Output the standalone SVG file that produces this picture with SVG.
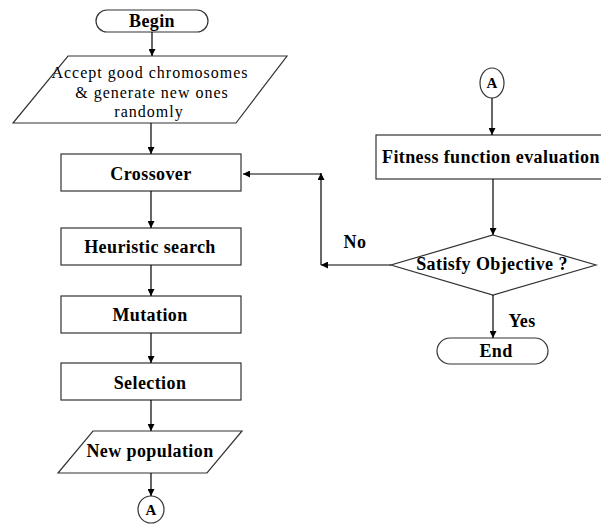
<svg xmlns="http://www.w3.org/2000/svg" width="601" height="525" viewBox="0 0 601 525">
<defs>
<marker id="ah" viewBox="0 0 10 10" refX="10" refY="5" markerWidth="7" markerHeight="7" markerUnits="userSpaceOnUse" orient="auto">
<path d="M0,0 L10,5 L0,10 z" fill="#000"/>
</marker>
<style>
.shape{fill:#fff;stroke:#333;stroke-width:1.2}
.conn line{stroke:#000;stroke-width:1.2;marker-end:url(#ah)}
text{font-family:'Liberation Serif','DejaVu Serif',serif;fill:#000;text-anchor:middle}
.b{font-weight:bold;font-size:18px;letter-spacing:0.4px}
.r{font-size:16px;letter-spacing:1px}
</style>
</defs>
<rect width="601" height="525" fill="#fff"/>
<g id="begin"><rect class="shape" x="96" y="10" width="112" height="22" rx="11"/><text class="b" x="152" y="27">Begin</text></g>
<g id="accept"><polygon class="shape" points="68,56 287,56 236,123 13,123"/>
<text class="r" x="150" y="78">Accept good chromosomes</text>
<text class="r" x="152" y="98">&amp; generate new ones</text>
<text class="r" x="149" y="117">randomly</text></g>
<g id="crossover"><rect class="shape" x="61" y="154" width="180" height="37"/><text class="b" x="151" y="180">Crossover</text></g>
<g id="heuristic"><rect class="shape" x="61" y="228" width="180" height="37"/><text class="b" x="150" y="253">Heuristic search</text></g>
<g id="mutation"><rect class="shape" x="61" y="296" width="180" height="37"/><text class="b" x="150" y="321">Mutation</text></g>
<g id="selection"><rect class="shape" x="61" y="363" width="180" height="37"/><text class="b" x="150" y="389">Selection</text></g>
<g id="newpop"><polygon class="shape" points="93,431 242,431 207,473 58,473"/><text class="b" x="150" y="457">New population</text></g>
<g id="a-bottom"><ellipse class="shape" cx="151" cy="509.5" rx="13" ry="13.5"/><text x="151" y="515" font-weight="bold" font-size="15">A</text></g>
<g id="a-top"><ellipse class="shape" cx="492" cy="83" rx="12" ry="15"/><text x="492" y="88" font-weight="bold" font-size="15">A</text></g>
<g id="fitness"><rect class="shape" x="376" y="135" width="240" height="44"/><text class="b" x="382" y="163" style="text-anchor:start">Fitness function evaluation</text></g>
<g id="satisfy"><polygon class="shape" points="493,235 596,265 493,295 391,265"/><text class="b" x="492" y="270">Satisfy Objective ?</text></g>
<g id="end"><rect class="shape" x="437" y="338" width="111" height="26" rx="13"/><text class="b" x="496" y="357">End</text></g>
<g id="connectors" class="conn">
<line x1="152" y1="32" x2="152" y2="56"/>
<line x1="151" y1="123" x2="151" y2="154"/>
<line x1="151" y1="191" x2="151" y2="228"/>
<line x1="151" y1="265" x2="151" y2="296"/>
<line x1="151" y1="333" x2="151" y2="363"/>
<line x1="151" y1="400" x2="151" y2="431"/>
<line x1="151" y1="473" x2="151" y2="496"/>
<line x1="492" y1="98" x2="492" y2="135"/>
<line x1="493" y1="179" x2="493" y2="235"/>
<line x1="493" y1="295" x2="493" y2="338"/>
<line x1="391" y1="265" x2="321" y2="265"/>
<line x1="321" y1="265" x2="321" y2="173"/>
<line x1="321" y1="174" x2="243" y2="174"/>
</g>
<g id="labels">
<text class="b" x="355" y="248">No</text>
<text class="b" x="522" y="327">Yes</text>
</g>
</svg>
